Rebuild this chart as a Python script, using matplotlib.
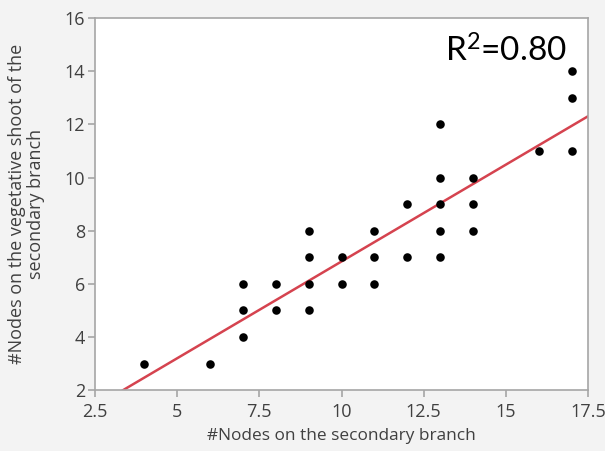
import matplotlib
matplotlib.use("Agg")
import matplotlib.pyplot as plt
import numpy as np

# --------------------------------------------------
# Data
# --------------------------------------------------

nodes_branch = [4, 6, 7, 7, 7, 8, 8, 9, 9, 9, 9, 10, 10, 11, 11, 11,
                12, 12, 13, 13, 13, 13, 13, 14, 14, 14, 16, 17, 17, 17]
nodes_shoot = [3, 3, 6, 5, 4, 6, 5, 8, 7, 6, 5, 7, 6, 8, 7, 6,
               9, 7, 12, 10, 9, 8, 7, 10, 9, 8, 11, 14, 13, 11]

x_ticks = [2.5, 5, 7.5, 10, 12.5, 15, 17.5]
x_tick_labels = ["2.5", "5", "7.5", "10", "12.5", "15", "17.5"]
y_ticks = [2, 4, 6, 8, 10, 12, 14, 16]

r2_label = "R$^{2}$=0.80"

# --------------------------------------------------
# Style
# --------------------------------------------------

plt.rcParams["font.family"] = ["Open Sans", "DejaVu Sans"]
plt.rcParams["mathtext.fontset"] = "custom"
plt.rcParams["mathtext.rm"] = "Lato"
plt.rcParams["mathtext.it"] = "Lato"

text_color = "#404040"
axis_color = "#a6a6a6"

fig = plt.figure(figsize=(6.05, 4.51), dpi=100)
fig.patch.set_facecolor("#f3f3f3")
ax = fig.add_axes([0.157, 0.135, 0.815, 0.825])
ax.set_facecolor("white")

# --------------------------------------------------
# Scatter + fit
# --------------------------------------------------

x = np.array(nodes_branch, dtype=float)
y = np.array(nodes_shoot, dtype=float)

ax.scatter(x, y, s=38, color="black", linewidth=0, zorder=3)

slope, intercept = np.polyfit(x, y, 1)
fit_x = np.array([2.5, 17.5])
ax.plot(fit_x, slope * fit_x + intercept, color="#d5434f", lw=1.8, zorder=2)

# --------------------------------------------------
# Axes
# --------------------------------------------------

ax.set_xlim(2.5, 17.5)
ax.set_ylim(2, 16)
ax.set_xticks(x_ticks)
ax.set_xticklabels(x_tick_labels)
ax.set_yticks(y_ticks)

for spine in ax.spines.values():
    spine.set_color(axis_color)
    spine.set_linewidth(1.2)

ax.tick_params(axis="both", direction="out", length=5, width=1.2,
               color=axis_color, labelcolor=text_color, labelsize=13,
               pad=2)
ax.tick_params(axis="x", pad=4)

ax.set_xlabel("#Nodes on the secondary branch", fontsize=12.4,
              color=text_color, labelpad=5)
ax.set_ylabel("#Nodes on the vegetative shoot of the\nsecondary branch",
              fontsize=13, color=text_color, labelpad=14, linespacing=1.1)

ax.text(0.957, 0.882, r2_label, transform=ax.transAxes, ha="right",
        va="baseline", fontsize=24, color="black", family="Lato")

fig.savefig("out.png", dpi=100, facecolor=fig.get_facecolor())
